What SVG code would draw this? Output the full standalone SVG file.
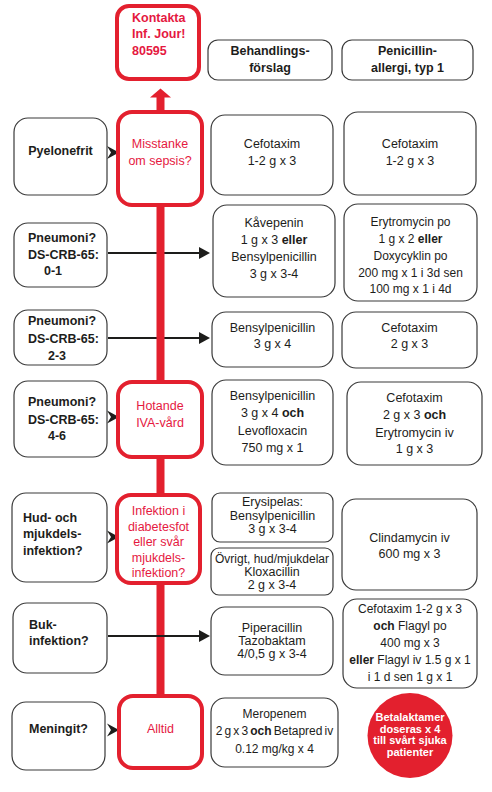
<svg xmlns="http://www.w3.org/2000/svg" width="492" height="792" viewBox="0 0 492 792">
<style>
text{font-family:"Liberation Sans",Arial,sans-serif;fill:#1d1d1b}
.c{text-anchor:middle}
.b{font-weight:bold;font-size:12.5px}
.r{font-size:12.5px}
.s{font-size:12px}
.red{fill:#e5193f;font-size:12.5px;text-anchor:middle}
.redb{fill:#e5193f;font-weight:bold;font-size:12.5px}
.box{fill:#fff;stroke:#3a3a3a;stroke-width:1.2}
.rbox{fill:#fff;stroke:#e3202e;stroke-width:4}
.w{fill:#fff;font-weight:bold;font-size:11px;text-anchor:middle}
tspan.bo{font-weight:bold}
</style>
<defs>
<path id="chev" d="M-12,-6.5 L0,0 L-12,6.5 L-8,0 Z" fill="#1d1d1b"/>
<path id="tri" d="M-11,-6 L0,0 L-11,6 Z" fill="#1d1d1b"/>
</defs>
<rect width="492" height="792" fill="#fff"/>

<g id="connectors">
<line x1="108" y1="253" x2="200" y2="253" stroke="#1d1d1b" stroke-width="1.8"/>
<use href="#tri" x="210" y="253"/>
<line x1="108" y1="338" x2="200" y2="338" stroke="#1d1d1b" stroke-width="1.8"/>
<use href="#tri" x="210" y="338"/>
<line x1="160.5" y1="96" x2="160.5" y2="698" stroke="#e3202e" stroke-width="8"/>
<path d="M150,97.5 L160.5,88.5 L171,97.5 Z" fill="#e3202e"/>
<line x1="108" y1="636" x2="200" y2="636" stroke="#1d1d1b" stroke-width="1.8"/>
<use href="#tri" x="210" y="636"/>
<use href="#chev" x="119" y="152.5"/>
<use href="#chev" x="119" y="417"/>
<use href="#chev" x="119" y="537"/>
<use href="#chev" x="119" y="730"/>
</g>

<g id="kontakta">
<rect class="rbox" x="117" y="6" width="82" height="73" rx="12"/>
<text class="redb" x="132" y="22">Kontakta</text>
<text class="redb" x="132" y="38">Inf. Jour!</text>
<text class="redb" x="132" y="55">80595</text>
</g>
<g id="hdr-behandling">
<rect class="box" x="208" y="40" width="124" height="40" rx="10"/>
<text class="b c" x="270" y="55">Behandlings-</text>
<text class="b c" x="270" y="72">förslag</text>
</g>
<g id="hdr-allergi">
<rect class="box" x="342" y="40" width="131" height="40" rx="10"/>
<text class="b c" x="407.5" y="55">Penicillin-</text>
<text class="b c" x="407.5" y="72">allergi, typ 1</text>
</g>

<g id="pyelonefrit">
<rect class="box" x="14" y="118" width="93" height="77" rx="14"/>
<text class="b c" x="60.5" y="155">Pyelonefrit</text>
</g>
<g id="pneumoni01">
<rect class="box" x="14" y="223" width="93" height="64" rx="14"/>
<text class="b" x="28" y="242">Pneumoni?</text>
<text class="b" x="28" y="259">DS-CRB-65:</text>
<text class="b" x="44" y="275">0-1</text>
</g>
<g id="pneumoni23">
<rect class="box" x="14" y="310" width="93" height="55" rx="14"/>
<text class="b" x="28" y="325">Pneumoni?</text>
<text class="b" x="28" y="343">DS-CRB-65:</text>
<text class="b" x="48" y="360">2-3</text>
</g>
<g id="pneumoni46">
<rect class="box" x="14" y="381" width="93" height="76" rx="14"/>
<text class="b" x="28" y="406">Pneumoni?</text>
<text class="b" x="28" y="424">DS-CRB-65:</text>
<text class="b" x="48" y="440">4-6</text>
</g>
<g id="hud">
<rect class="box" x="12" y="493" width="95" height="89" rx="14"/>
<text class="b" x="23" y="522">Hud- och</text>
<text class="b" x="23" y="538">mjukdels-</text>
<text class="b" x="23" y="555">infektion?</text>
</g>
<g id="buk">
<rect class="box" x="13" y="603" width="94" height="70" rx="14"/>
<text class="b" x="29" y="629">Buk-</text>
<text class="b" x="29" y="645">infektion?</text>
</g>
<g id="meningit">
<rect class="box" x="12" y="702" width="93" height="68" rx="14"/>
<text class="b c" x="58.5" y="733">Meningit?</text>
</g>

<g id="sepsis">
<rect class="rbox" x="118" y="112" width="84" height="93" rx="14"/>
<text class="red" x="160" y="148">Misstanke</text>
<text class="red" x="160" y="165">om sepsis?</text>
</g>
<g id="iva">
<rect class="rbox" x="118" y="382" width="84" height="75" rx="14"/>
<text class="red" x="160" y="410">Hotande</text>
<text class="red" x="160" y="427">IVA-vård</text>
</g>
<g id="diabetesfot">
<rect class="rbox" x="117" y="495" width="83" height="88" rx="14"/>
<text class="red" x="158.5" y="515">Infektion i</text>
<text class="red" x="158.5" y="530.5">diabetesfot</text>
<text class="red" x="158.5" y="546">eller svår</text>
<text class="red" x="158.5" y="561.5">mjukdels-</text>
<text class="red" x="158.5" y="577">infektion?</text>
</g>
<g id="alltid">
<rect class="rbox" x="119" y="696" width="83" height="72" rx="14"/>
<text class="red" x="160.5" y="733">Alltid</text>
</g>

<g id="b-pyelo">
<rect class="box" x="211" y="115" width="122" height="80" rx="14"/>
<text class="r c" x="272" y="148">Cefotaxim</text>
<text class="r c" x="272" y="165">1-2 g x 3</text>
</g>
<g id="b-pn01">
<rect class="box" x="213" y="205" width="122" height="92" rx="14"/>
<text class="r c" x="274" y="227">Kåvepenin</text>
<text class="r c" x="274" y="244">1 g x 3 <tspan class="bo">eller</tspan></text>
<text class="r c" x="274" y="261">Bensylpenicillin</text>
<text class="r c" x="274" y="278">3 g x 3-4</text>
</g>
<g id="b-pn23">
<rect class="box" x="212" y="312" width="121" height="55" rx="14"/>
<text class="r c" x="272.5" y="332">Bensylpenicillin</text>
<text class="r c" x="272.5" y="348">3 g x 4</text>
</g>
<g id="b-pn46">
<rect class="box" x="212" y="380" width="121" height="85" rx="14"/>
<text class="r c" x="272.5" y="400">Bensylpenicillin</text>
<text class="r c" x="272.5" y="417">3 g x 4 <tspan class="bo">och</tspan></text>
<text class="r c" x="272.5" y="435">Levofloxacin</text>
<text class="r c" x="272.5" y="452">750 mg x 1</text>
</g>
<g id="b-erysipelas">
<rect class="box" x="212" y="493" width="121" height="49" rx="8"/>
<text class="r c" x="272.5" y="506">Erysipelas:</text>
<text class="r c" x="272.5" y="519.5">Bensylpenicillin</text>
<text class="r c" x="272.5" y="533">3 g x 3-4</text>
</g>
<g id="b-ovrigt">
<rect class="box" x="211" y="548" width="122" height="47" rx="8"/>
<text class="s c" x="272" y="563">Övrigt, hud/mjukdelar</text>
<text class="r c" x="272" y="576">Kloxacillin</text>
<text class="r c" x="272" y="588.5">2 g x 3-4</text>
</g>
<g id="b-buk">
<rect class="box" x="211" y="607" width="122" height="68" rx="14"/>
<text class="r c" x="272" y="632">Piperacillin</text>
<text class="r c" x="272" y="645">Tazobaktam</text>
<text class="r c" x="272" y="658">4/0,5 g x 3-4</text>
</g>
<g id="b-meningit">
<rect class="box" x="211" y="698" width="127" height="69" rx="14"/>
<text class="s c" x="274.5" y="718">Meropenem</text>
<text class="s c" x="274.5" y="735" word-spacing="-1.2">2 g x 3 <tspan class="bo">och</tspan> Betapred iv</text>
<text class="s c" x="274.5" y="753">0.12 mg/kg x 4</text>
</g>

<g id="a-pyelo">
<rect class="box" x="344" y="112" width="132" height="83" rx="14"/>
<text class="r c" x="410" y="148">Cefotaxim</text>
<text class="r c" x="410" y="165">1-2 g x 3</text>
</g>
<g id="a-pn01">
<rect class="box" x="344" y="204" width="133" height="97" rx="14"/>
<text class="s c" x="410.5" y="226">Erytromycin po</text>
<text class="s c" x="410.5" y="243">1 g x 2 <tspan class="bo">eller</tspan></text>
<text class="s c" x="410.5" y="260">Doxycyklin po</text>
<text class="s c" x="410.5" y="277">200 mg x 1 i 3d sen</text>
<text class="s c" x="410.5" y="293">100 mg x 1 i 4d</text>
</g>
<g id="a-pn23">
<rect class="box" x="342" y="312" width="135" height="56" rx="14"/>
<text class="r c" x="409.5" y="332">Cefotaxim</text>
<text class="r c" x="409.5" y="348">2 g x 3</text>
</g>
<g id="a-pn46">
<rect class="box" x="347" y="382" width="135" height="83" rx="14"/>
<text class="r c" x="414.5" y="402">Cefotaxim</text>
<text class="r c" x="414.5" y="419">2 g x 3 <tspan class="bo">och</tspan></text>
<text class="r c" x="414.5" y="437">Erytromycin iv</text>
<text class="r c" x="414.5" y="453">1 g x 3</text>
</g>
<g id="a-hud">
<rect class="box" x="342" y="499" width="135" height="91" rx="14"/>
<text class="r c" x="409.5" y="542">Clindamycin iv</text>
<text class="r c" x="409.5" y="558">600 mg x 3</text>
</g>
<g id="a-buk">
<rect class="box" x="343" y="599" width="134" height="89" rx="14"/>
<text class="s c" x="410" y="613">Cefotaxim 1-2 g x 3</text>
<text class="s c" x="410" y="630"><tspan class="bo">och</tspan> Flagyl po</text>
<text class="s c" x="410" y="647">400 mg x 3</text>
<text class="s c" x="410" y="664"><tspan class="bo">eller</tspan> Flagyl iv 1.5 g x 1</text>
<text class="s c" x="410" y="681">i 1 d sen 1 g x 1</text>
</g>
<g id="note">
<circle cx="410" cy="735.5" r="42.5" fill="#e3202e"/>
<text class="w" x="410" y="721">Betalaktamer</text>
<text class="w" x="410" y="732.5">doseras x 4</text>
<text class="w" x="410" y="744">till svårt sjuka</text>
<text class="w" x="410" y="755.5">patienter</text>
</g>
</svg>
